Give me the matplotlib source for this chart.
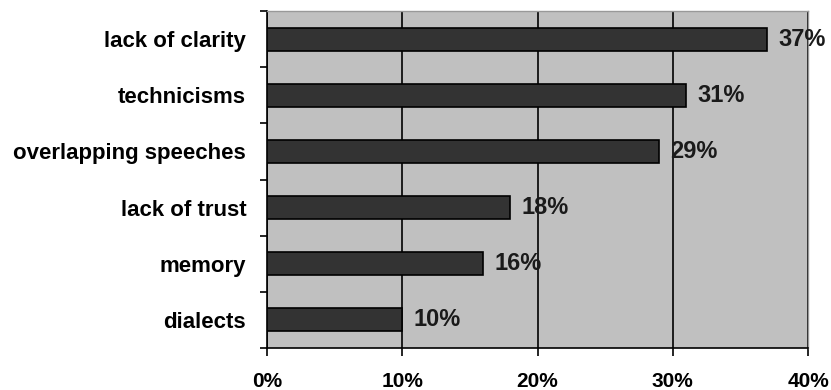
import matplotlib
matplotlib.use("Agg")
import matplotlib.pyplot as plt
import numpy as np

categories = ["lack of clarity", "technicisms", "overlapping speeches", "lack of trust", "memory", "dialects"]
values = [37, 31, 29, 18, 16, 10]
xticks = [0, 10, 20, 30, 40]
xticklabels = ["0%", "10%", "20%", "30%", "40%"]

plt.rcParams['font.family'] = ['Liberation Sans', 'DejaVu Sans']
plt.rcParams['font.weight'] = 'bold'

fig = plt.figure(figsize=(8.31, 3.9), dpi=100)
ax = fig.add_axes([267/831, 1-348/390, (808-267)/831, (348-11)/390])
ax.set_facecolor("#c0c0c0")

y = np.arange(len(categories))
ax.barh(y, values, height=0.41, color="#333333", edgecolor="black", linewidth=1.2, zorder=3)
for yi, v in zip(y, values):
    ax.annotate(f"{v}%", (v, yi), xytext=(8, 0), textcoords="offset points",
                va="center", ha="left", fontsize=17, fontweight="bold", color="#1a1a1a", zorder=4)

ax.set_xlim(0, 40)
ax.set_ylim(len(categories)-0.5, -0.5)
ax.set_xticks(xticks)
ax.set_xticklabels(xticklabels, fontsize=15, fontweight="bold")
ax.tick_params(axis="x", length=6, width=1.2, pad=11, direction="out")
ax.xaxis.grid(True, color="black", linewidth=1.2, zorder=1)
ax.set_axisbelow(True)

ax.set_yticks(np.arange(len(categories)+1) - 0.5)
ax.set_yticklabels([])
ax.set_yticks(y, minor=True)
ax.set_yticklabels(categories, minor=True, fontsize=16, fontweight="bold")
ax.tick_params(axis="y", which="major", length=5, width=1.2, direction="out")
ax.tick_params(axis="y", which="minor", length=0, pad=15)

for s in ["left", "bottom"]:
    ax.spines[s].set_color("black")
    ax.spines[s].set_linewidth(1.2)
for s in ["top", "right"]:
    ax.spines[s].set_color("#999999")
    ax.spines[s].set_linewidth(1.0)

fig.savefig("out.png", dpi=100)
